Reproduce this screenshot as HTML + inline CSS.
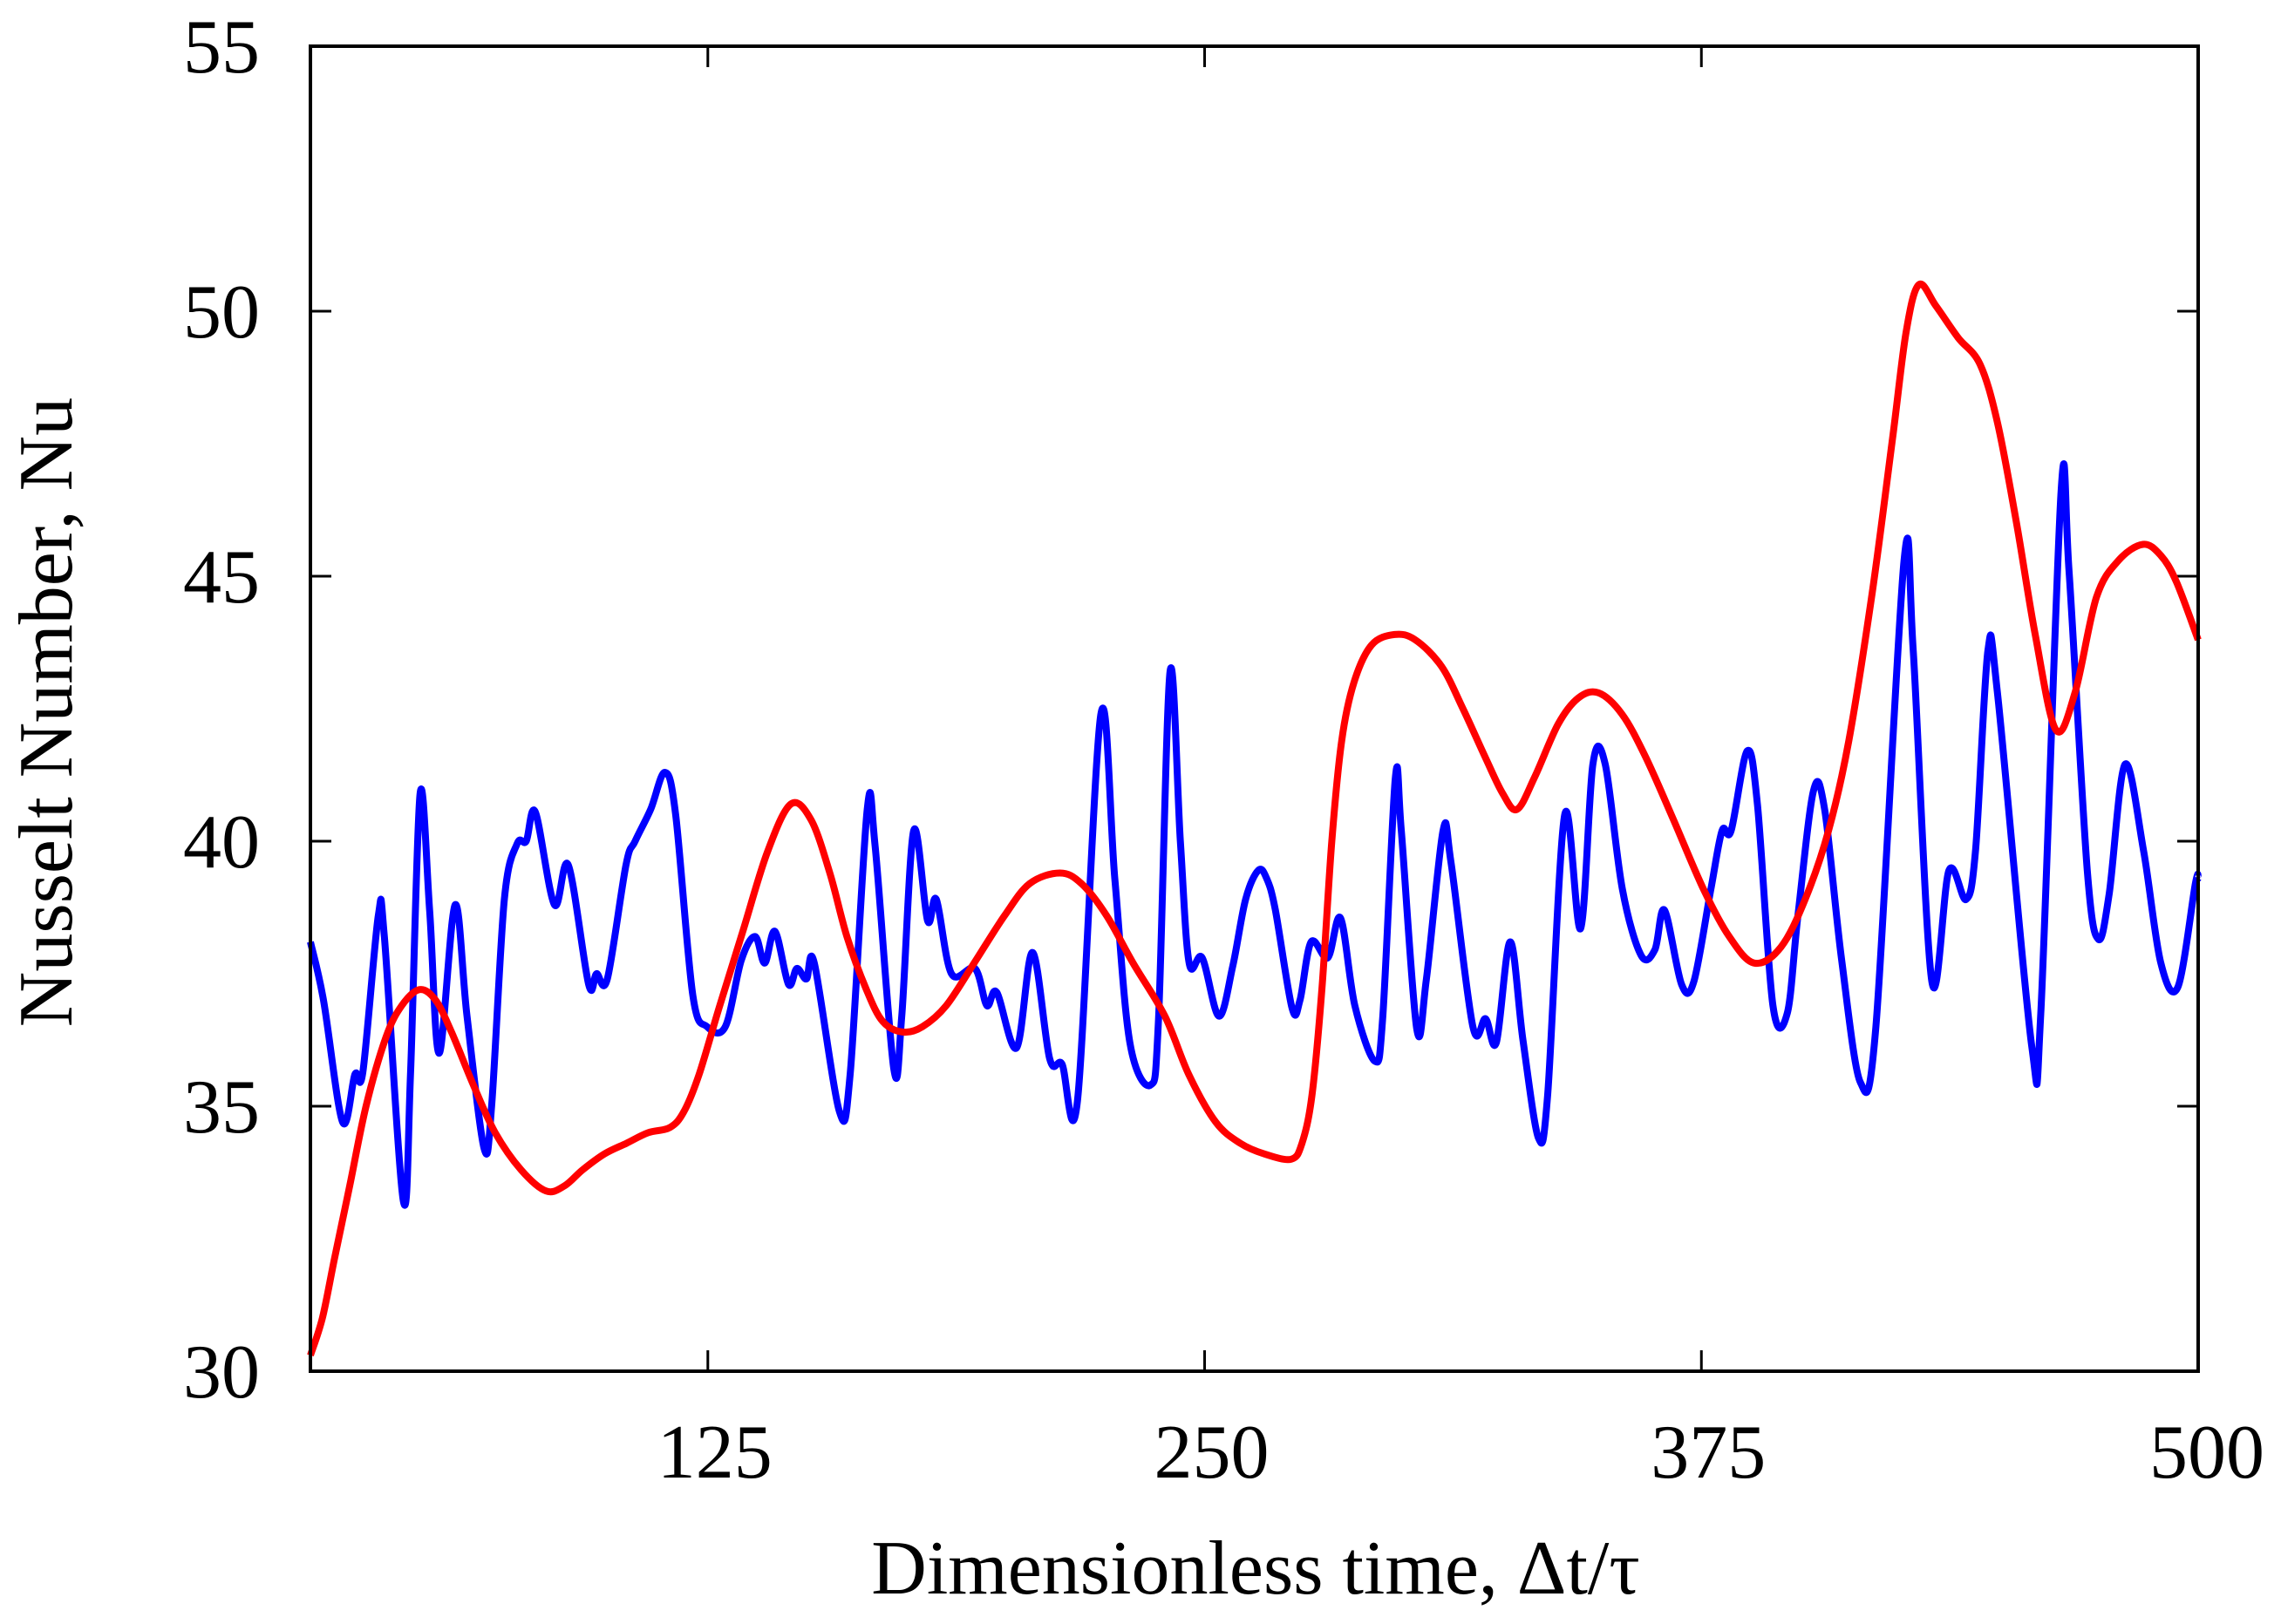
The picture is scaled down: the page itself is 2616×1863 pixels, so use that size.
<!DOCTYPE html>
<html><head><meta charset="utf-8"><style>
html,body{margin:0;padding:0;background:#fff;}
svg{display:block;}
text{font-family:"Liberation Serif","Times New Roman",serif;fill:#000;}
</style></head><body>
<svg id="chart" width="2616" height="1863" viewBox="0 0 2616 1863" xmlns="http://www.w3.org/2000/svg">
<g id="grid"></g>
<g id="series"></g>
<rect x="356" y="53" width="2165" height="1520" fill="none" stroke="#000" stroke-width="4"/>
<text x="1440" y="1828" font-size="88" text-anchor="middle">Dimensionless time, Δt/τ</text>
<text transform="translate(82,817) rotate(-90)" font-size="88" text-anchor="middle">Nusselt Number, Nu</text>
</svg>
<script>
const xTicks = [125, 250, 375, 500];
const yTicks = [30, 35, 40, 45, 50, 55];
const redX = [25,28,31,34.9,39,44,48,52.5,56.5,60.5,66,71.5,78,84.3,89,93.5,99,104.5,110,115.5,119,122.8,128,133.8,140,145.9,151,155.7,160,164.9,169,174,179,185,192,199.7,206,213.6,219,225.3,232,240,246,252.8,259,265,271.8,274.5,277,279.5,282,284.5,287.6,292,297.8,303,309.6,315,320.5,325,328.6,333,338.9,344,349.1,355,360.9,368,375.5,382,388.3,395,401.1,407,412.1,418,423.1,426.5,429.7,434,439.6,445.1,449.5,454.3,459,464.2,469,474.4,480,486.1,490.5,494.5,500];
const redY = [30.3,31.0,32.1,33.5,35.0,36.3,36.9,37.2,37.0,36.4,35.4,34.5,33.8,33.4,33.5,33.8,34.1,34.3,34.5,34.6,34.9,35.6,36.9,38.3,39.8,40.7,40.4,39.4,38.2,37.2,36.6,36.4,36.5,36.9,37.7,38.6,39.2,39.4,39.2,38.6,37.7,36.7,35.6,34.7,34.3,34.1,34.0,34.3,35.2,37.2,40.0,41.9,43.0,43.7,43.9,43.8,43.3,42.5,41.6,40.9,40.6,41.2,42.2,42.7,42.8,42.4,41.6,40.4,39.1,38.2,37.7,38.0,38.9,40.2,41.9,44.7,47.6,49.6,50.5,50.1,49.5,49.0,47.9,46.0,43.9,42.1,42.8,44.6,45.3,45.6,45.4,44.9,43.8];
const blueX = [25,28.3,33.1,36.2,38.2,42.1,43.6,48.4,50.2,52.6,55,57.4,61.4,64.4,68.7,70.6,73.8,77,79.3,81.6,86.4,89.9,95,97,99.7,104.4,106.7,110.6,114.2,116.9,121.2,124.8,129.4,133.4,136.9,139.3,141.9,145.3,147.4,149.8,151.8,158.1,160.8,165.1,167.1,171.8,173.8,176.8,180.3,182.5,186.3,192.2,195.2,197.7,202.7,206.7,211,214.1,218,223.9,227.4,231.2,236.4,238.4,241.3,243.9,246.1,249.4,253.6,257.1,260.3,263.5,265.6,267.8,272,274,276.8,281,284.2,287.8,292.8,294.8,298,299.5,303.4,305.8,310,312,317.5,320.7,323.4,326.9,330.1,334,336.3,340.6,344.6,347.7,350.8,355.1,359.8,363.3,365.7,370,373.1,377.4,380.2,382.5,386.5,389.1,393,396.6,399.3,403.2,406,410.3,415,418.9,426,428.3,433,437.3,441.6,444,447.1,449.5,458.1,460.4,465.5,467.5,472.1,474.9,477.6,481.6,486.3,490.6,494.9,499.3,500];
const blueY = [38.1,37.0,34.7,35.6,35.65,38.6,38.2,33.2,35.65,40.9,38.7,36.0,38.8,36.7,34.2,35.0,38.9,39.95,40.0,40.55,38.8,39.55,37.3,37.5,37.4,39.55,40.0,40.6,41.3,40.5,37.1,36.5,36.5,37.75,38.2,37.7,38.3,37.3,37.6,37.4,37.7,34.9,35.6,40.6,39.9,35.7,36.7,40.2,38.5,38.9,37.5,37.6,36.9,37.15,36.1,37.9,35.9,35.8,35.1,42.4,39.3,36.2,35.4,36.65,43.2,40.0,37.7,37.8,36.7,37.65,38.9,39.45,39.3,38.7,36.85,37.0,38.1,37.8,38.55,36.9,35.85,36.65,41.2,40.2,36.45,37.4,40.2,39.6,36.5,36.65,36.2,38.1,36.25,34.4,35.2,40.5,38.35,41.45,41.45,39.1,37.85,37.95,38.7,37.3,37.35,39.1,40.2,40.2,41.7,40.7,36.9,36.75,38.6,40.95,40.6,37.75,35.45,36.5,45.3,43.6,37.35,39.45,38.9,39.85,43.6,42.8,36.15,36.75,46.6,45.1,39.45,38.15,39.0,41.45,39.8,37.7,37.25,39.2,39.3];

const L=356,R=2521,T=53,B=1573, XMIN=25,XMAX=500,YMIN=30,YMAX=55;
function sx(v){return L+(v-XMIN)/(XMAX-XMIN)*(R-L);}
function sy(v){return B-(v-YMIN)/(YMAX-YMIN)*(B-T);}
const NS="http://www.w3.org/2000/svg";
const grid=document.getElementById('grid');
const series=document.getElementById('series');
function mk(tag,attrs,parent){const e=document.createElementNS(NS,tag);for(const k in attrs)e.setAttribute(k,attrs[k]);parent.appendChild(e);return e;}

xTicks.forEach(v=>{
  const x=sx(v);
  const t1=mk('line',{x1:x,x2:x,y1:B,y2:B-24,stroke:'#000','stroke-width':3},grid);
  
  
  const t2=mk('line',{x1:x,x2:x,y1:T,y2:T+24,stroke:'#000','stroke-width':3},grid);
  
  
  const lb=mk('text',{x:(v===500?x+10:x+8),y:1695,'font-size':88,'text-anchor':'middle'},grid);
  lb.textContent=String(v);
  
  
});
yTicks.forEach(v=>{
  const y=sy(v);
  const t1=mk('line',{x1:L,x2:L+24,y1:y,y2:y,stroke:'#000','stroke-width':3},grid);
  
  
  const t2=mk('line',{x1:R,x2:R-24,y1:y,y2:y,stroke:'#000','stroke-width':3},grid);
  
  
  const lb=mk('text',{x:298,y:y+30,'font-size':88,'text-anchor':'end'},grid);
  lb.textContent=String(v);
  
  
});

function smoothPath(xs,ys){
  const p=xs.map((x,i)=>[sx(x),sy(ys[i])]);
  let d='M'+p[0][0].toFixed(1)+','+p[0][1].toFixed(1);
  for(let i=0;i<p.length-1;i++){
    const p0=p[Math.max(0,i-1)],p1=p[i],p2=p[i+1],p3=p[Math.min(p.length-1,i+2)];
    const c1=[p1[0]+(p2[0]-p0[0])/6,p1[1]+(p2[1]-p0[1])/6];
    const c2=[p2[0]-(p3[0]-p1[0])/6,p2[1]-(p3[1]-p1[1])/6];
    d+='C'+c1[0].toFixed(1)+','+c1[1].toFixed(1)+' '+c2[0].toFixed(1)+','+c2[1].toFixed(1)+' '+p2[0].toFixed(1)+','+p2[1].toFixed(1);
  }
  return d;
}
const blue=mk('path',{d:smoothPath(blueX,blueY),fill:'none',stroke:'#0000ff','stroke-width':8,'stroke-linejoin':'round'},series);


const red=mk('path',{d:smoothPath(redX,redY),fill:'none',stroke:'#ff0000','stroke-width':8,'stroke-linejoin':'round'},series);


</script>
</body></html>
